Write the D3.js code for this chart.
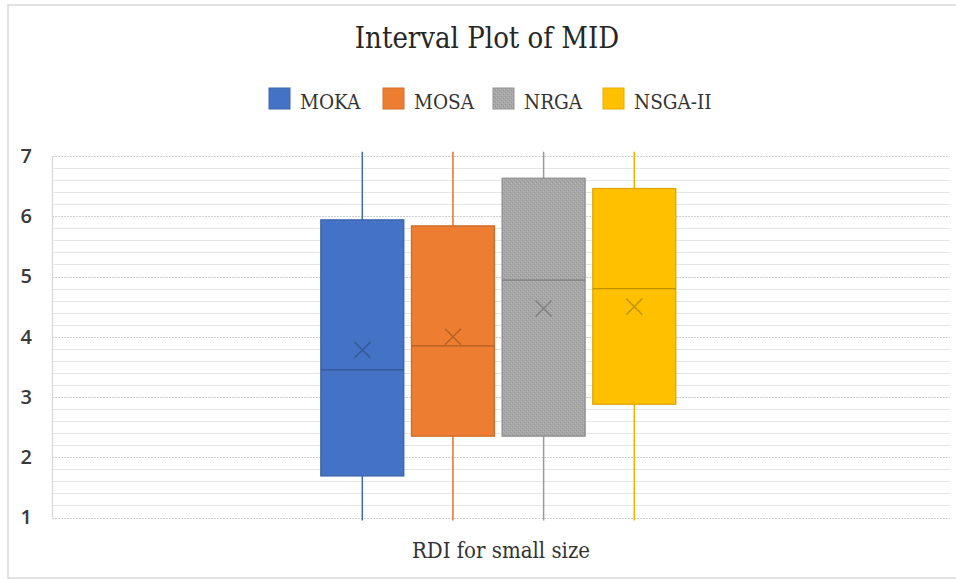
<!DOCTYPE html>
<html>
<head>
<meta charset="utf-8">
<title>Interval Plot of MID</title>
<script src="https://d3js.org/d3.v7.min.js"></script>
<style>
body { margin: 0; background: #fff; }
</style>
</head>
<body>
<svg id="chart" width="956" height="579"></svg>
<script>
// values
var categories = ["RDI for small size"];
var series = ["MOKA", "MOSA", "NRGA", "NSGA-II"];
var colors = ["#4472C4", "#ED7D31", "#A5A5A5", "#FFC000"];
var q1 = [1.69, 2.35, 2.35, 2.88];
var q3 = [5.94, 5.84, 6.63, 6.46];
var medians = [3.45, 3.85, 4.94, 4.80];
var means = [3.78, 4.00, 4.47, 4.50];
var whiskerMin = [0.95, 0.95, 0.95, 0.95];
var whiskerMax = [7.07, 7.07, 7.07, 7.07];
var yTicks = [1, 2, 3, 4, 5, 6, 7];

var rows = series.map(function(s, i) {
  return {name: s, color: colors[i], q1: q1[i], q3: q3[i], med: medians[i],
          mean: means[i], lo: whiskerMin[i], hi: whiskerMax[i]};
});

var svg = d3.select('#chart');
var plotL = 52, plotR = 950, plotT = 156, plotB = 517.5;

// chart area border
svg.append('rect')
  .attr('x', 8).attr('y', 5).attr('width', 960).attr('height', 573)
  .attr('fill', 'none').attr('stroke', '#d9d9d9').attr('stroke-width', 1.5);

// texture for NRGA
var defs = svg.append('defs');
var pat = defs.append('pattern').attr('id', 'grayTex')
  .attr('width', 4).attr('height', 4).attr('patternUnits', 'userSpaceOnUse');
pat.append('rect').attr('width', 4).attr('height', 4).attr('fill', '#a7a7a7');
pat.append('rect').attr('x', 0).attr('y', 0).attr('width', 1).attr('height', 1).attr('fill', '#939393');
pat.append('rect').attr('x', 2).attr('y', 2).attr('width', 1).attr('height', 1).attr('fill', '#939393');
pat.append('rect').attr('x', 1).attr('y', 3).attr('width', 1).attr('height', 1).attr('fill', '#b8b8b8');
pat.append('rect').attr('x', 3).attr('y', 1).attr('width', 1).attr('height', 1).attr('fill', '#b8b8b8');

function fillOf(d) { return d.name === 'NRGA' ? 'url(#grayTex)' : d.color; }

var ys = d3.scaleLinear().domain([1, 7]).range([plotB, plotT]);
var x0 = d3.scaleBand().domain(categories).range([plotL, plotR])
  .paddingInner(0).paddingOuter(0.765).align(0.495);
var x1 = d3.scaleBand().domain(series).range([0, x0.bandwidth()]).paddingInner(0.085).paddingOuter(0);

// gridlines: minor every 0.2, major every 1
var minor = d3.range(1, 7.001, 0.2).filter(function(v) { return Math.abs(v - Math.round(v)) > 0.01; });
svg.append('g').selectAll('line').data(minor).enter().append('line')
  .attr('x1', plotL).attr('x2', plotR)
  .attr('y1', function(d) { return Math.round(ys(d)) + 0.5; })
  .attr('y2', function(d) { return Math.round(ys(d)) + 0.5; })
  .attr('stroke', '#e6e6e6').attr('stroke-width', 1);
svg.append('g').selectAll('line').data(yTicks).enter().append('line')
  .attr('x1', plotL).attr('x2', plotR)
  .attr('y1', function(d) { return Math.round(ys(d)) + 0.5; })
  .attr('y2', function(d) { return Math.round(ys(d)) + 0.5; })
  .attr('stroke', '#d0d0d0').attr('stroke-width', 1.2).attr('stroke-dasharray', '2,1');
svg.append('line')
  .attr('x1', plotL + 0.5).attr('x2', plotL + 0.5).attr('y1', plotT).attr('y2', plotB)
  .attr('stroke', '#d6d6d6').attr('stroke-width', 1.2);

// y axis labels
var yAxis = svg.append('g')
  .attr('transform', 'translate(' + plotL + ',0)')
  .call(d3.axisLeft(ys).tickValues(yTicks).tickSize(0).tickPadding(20).tickFormat(d3.format('d')));
yAxis.select('.domain').remove();
yAxis.selectAll('text')
  .attr('font-family', 'Open Sans, sans-serif').attr('font-size', 20)
  .attr('font-weight', 600).attr('fill', '#3a3a3a');

// boxes
var g = svg.append('g').attr('transform', 'translate(' + x0(categories[0]) + ',0)');
var box = g.selectAll('g.box').data(rows).enter().append('g').attr('class', 'box')
  .attr('transform', function(d) { return 'translate(' + x1(d.name) + ',0)'; });
var bw = x1.bandwidth();

box.append('line')
  .attr('x1', bw / 2).attr('x2', bw / 2)
  .attr('y1', function(d) { return ys(d.hi); })
  .attr('y2', function(d) { return ys(d.lo); })
  .attr('stroke', function(d) { return d3.color(d.color).darker(0.2); })
  .attr('stroke-width', 1.5);
box.append('rect')
  .attr('x', 0).attr('width', bw)
  .attr('y', function(d) { return ys(d.q3); })
  .attr('height', function(d) { return ys(d.q1) - ys(d.q3); })
  .attr('fill', fillOf)
  .attr('stroke', function(d) { return d3.color(d.color).darker(0.4); })
  .attr('stroke-width', 1.3);
box.append('line')
  .attr('x1', 0).attr('x2', bw)
  .attr('y1', function(d) { return ys(d.med); })
  .attr('y2', function(d) { return ys(d.med); })
  .attr('stroke', function(d) { return d3.color(d.color).darker(0.8); })
  .attr('stroke-width', 1.3);
// mean markers
box.append('path')
  .attr('d', function(d) {
    var cx = bw / 2, cy = ys(d.mean), r = 8;
    return 'M' + (cx - r) + ',' + (cy - r) + 'L' + (cx + r) + ',' + (cy + r) +
           'M' + (cx - r) + ',' + (cy + r) + 'L' + (cx + r) + ',' + (cy - r);
  })
  .attr('fill', 'none')
  .attr('stroke', function(d) { return d3.color(d.color).darker(0.7); })
  .attr('stroke-width', 1.5);

// title
svg.append('text')
  .attr('x', 487).attr('y', 48).attr('text-anchor', 'middle')
  .attr('font-family', 'DejaVu Serif Condensed, DejaVu Serif, serif')
  .attr('font-size', 29).attr('fill', '#262626')
  .text('Interval Plot of MID');

// legend
var legX = [269, 383, 493, 603];
var leg = svg.append('g').selectAll('g').data(rows).enter().append('g')
  .attr('transform', function(d, i) { return 'translate(' + legX[i] + ',88)'; });
leg.append('rect')
  .attr('width', 21).attr('height', 21)
  .attr('fill', fillOf)
  .attr('stroke', function(d) { return d3.color(d.color).darker(0.3); })
  .attr('stroke-width', 1);
leg.append('text')
  .attr('x', 31).attr('y', 21)
  .attr('font-family', 'DejaVu Serif Condensed, DejaVu Serif, serif')
  .attr('font-size', 20.5).attr('fill', '#333')
  .text(function(d) { return d.name; });

// x axis title
svg.append('text')
  .attr('x', 501).attr('y', 558).attr('text-anchor', 'middle')
  .attr('font-family', 'DejaVu Serif Condensed, DejaVu Serif, serif')
  .attr('font-size', 22).attr('fill', '#333')
  .text(categories[0]);
</script>
</body>
</html>
